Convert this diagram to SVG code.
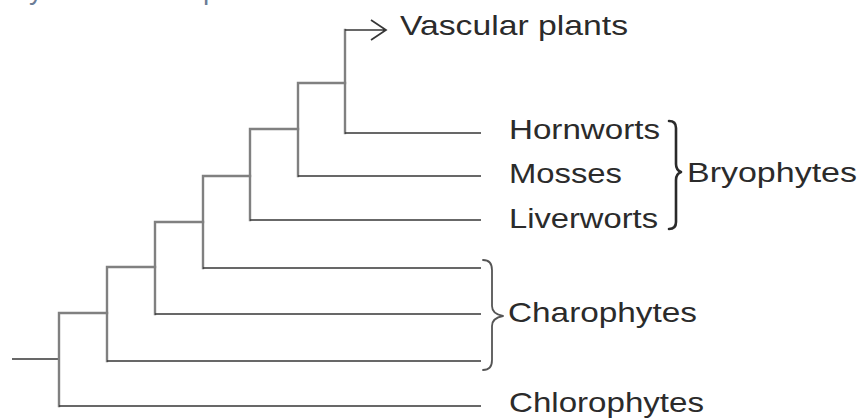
<svg xmlns="http://www.w3.org/2000/svg" width="862" height="420" viewBox="0 0 862 420">
<defs>
<style>
.int{stroke:#808080;stroke-width:2.4;fill:none;stroke-linecap:square}
.term{stroke:#363636;stroke-width:1.7;fill:none}
.lbl{font-family:"Liberation Sans",Arial,sans-serif;font-size:27.5px;fill:#2b2b2b}
.frag{font-family:"Liberation Sans",Arial,sans-serif;font-size:28px;fill:#6b7d96}
.brace{fill:none;stroke-linecap:round;stroke-linejoin:round}
</style>
</defs>
<rect width="862" height="420" fill="#fff"/>
<text class="frag" x="29" y="-1">y</text>
<text class="frag" x="203" y="-1">p</text>
<g id="connectors">
<path class="term" d="M12 359H59"/>
<path class="int" d="M59 313V406M59 313H107"/>
<path class="term" d="M59 406H481"/>
<path class="int" d="M107 267V361M107 267H155"/>
<path class="term" d="M107 361H481"/>
<path class="int" d="M155 222V314M155 222H203"/>
<path class="term" d="M155 314H481"/>
<path class="int" d="M203 176V268M203 176H250"/>
<path class="term" d="M203 268H481"/>
<path class="int" d="M250 129V220M250 129H298"/>
<path class="term" d="M250 220H481"/>
<path class="int" d="M298 83V176M298 83H345"/>
<path class="term" d="M298 176H481"/>
<path class="int" d="M345 30V133"/>
<path class="term" d="M345 133H481"/>
<path class="term" d="M345 30H386M371 20L386 30L371 40"/>
</g>
<g id="vascular"><text class="lbl" x="400" y="35" textLength="228" lengthAdjust="spacingAndGlyphs">Vascular plants</text></g>
<g id="hornworts"><text class="lbl" x="509" y="139" textLength="151" lengthAdjust="spacingAndGlyphs">Hornworts</text></g>
<g id="mosses"><text class="lbl" x="509" y="183" textLength="113" lengthAdjust="spacingAndGlyphs">Mosses</text></g>
<g id="liverworts"><text class="lbl" x="509" y="228" textLength="149" lengthAdjust="spacingAndGlyphs">Liverworts</text></g>
<g id="bryophytes">
<path class="brace" stroke="#2a2a2a" stroke-width="2.6" d="M669 121Q676 121 676 128V164Q676 170 681 172Q676 174 676 180V222Q676 229 669 229"/>
<text class="lbl" x="687" y="182" textLength="170" lengthAdjust="spacingAndGlyphs">Bryophytes</text>
</g>
<g id="charophytes">
<path class="brace" stroke="#555" stroke-width="1.8" d="M483 260Q492 260 492 270V306Q492 314 503 316Q492 318 492 326V360Q492 370 483 370"/>
<text class="lbl" x="508" y="322" textLength="189" lengthAdjust="spacingAndGlyphs">Charophytes</text>
</g>
<g id="chlorophytes"><text class="lbl" x="509" y="412" textLength="195" lengthAdjust="spacingAndGlyphs">Chlorophytes</text></g>
</svg>
